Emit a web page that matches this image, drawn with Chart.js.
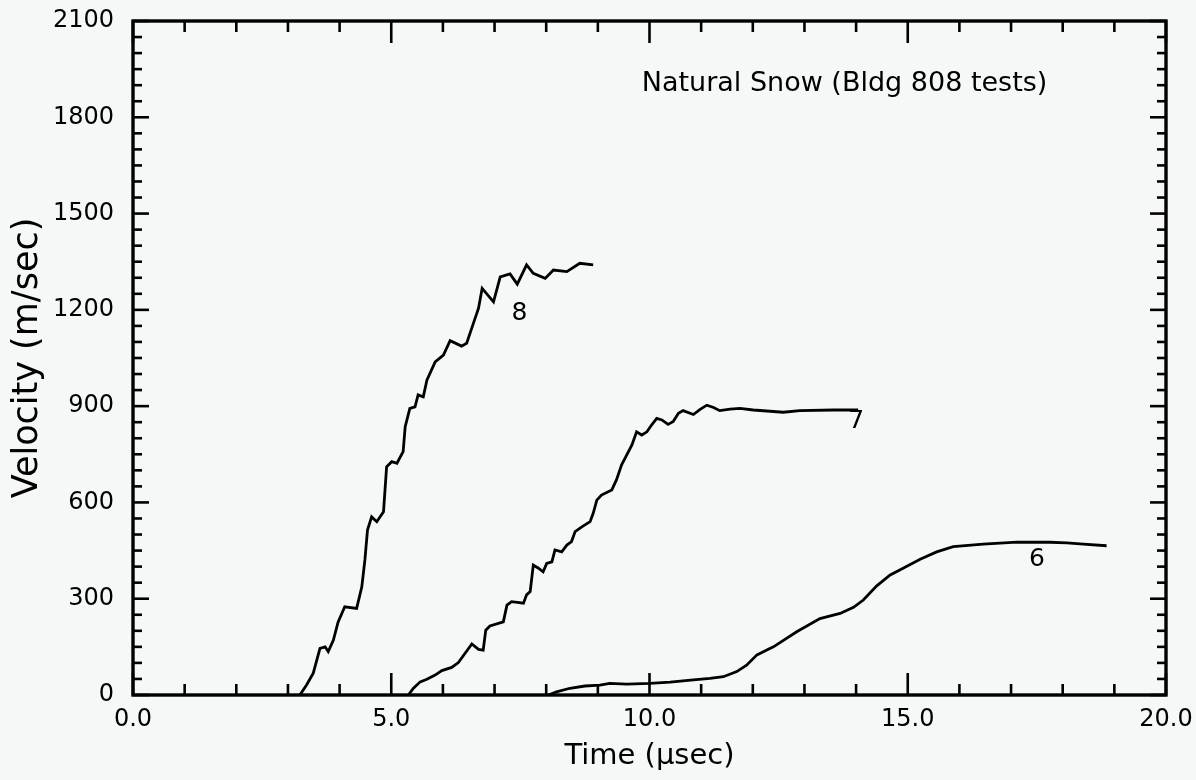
<!DOCTYPE html>
<html>
<head>
<meta charset="utf-8">
<script src="https://cdn.jsdelivr.net/npm/chart.js@4"></script>
<style>
  html, body { margin: 0; padding: 0; background: #f6f8f8; }
  #wrap { width: 1196px; height: 780px; }
</style>
</head>
<body>
<div id="wrap"><canvas id="velChart" width="1196" height="780"></canvas></div>
<script>
// shot 8
const t8 = [3.23, 3.36, 3.49, 3.62, 3.72, 3.78, 3.88, 3.97, 4.10, 4.33, 4.43, 4.49, 4.54, 4.62, 4.72, 4.85,
  4.91, 5.01, 5.11, 5.23, 5.27, 5.36, 5.46, 5.52, 5.62, 5.69, 5.85, 6.01, 6.14, 6.36, 6.46, 6.59, 6.69,
  6.76, 6.98, 7.11, 7.30, 7.44, 7.62, 7.75, 7.98, 8.14, 8.40, 8.65, 8.91];
const v8 = [0, 31, 68, 145, 150, 135, 171, 227, 275, 270, 337, 421, 514, 555, 540, 571,
  711, 727, 722, 758, 836, 893, 898, 935, 929, 981, 1038, 1059, 1104, 1087, 1096, 1158, 1205,
  1267, 1225, 1303, 1312, 1280, 1340, 1314, 1298, 1324, 1319, 1345, 1340];

// shot 7
const t7 = [5.33, 5.43, 5.56, 5.69, 5.85, 5.98, 6.17, 6.30, 6.43, 6.56, 6.69, 6.78, 6.83, 6.91, 7.17, 7.24,
  7.33, 7.56, 7.62, 7.69, 7.75, 7.85, 7.94, 8.01, 8.11, 8.17, 8.30, 8.40, 8.49, 8.56, 8.69, 8.85, 8.91,
  8.98, 9.07, 9.27, 9.36, 9.46, 9.56, 9.66, 9.75, 9.85, 9.95, 10.04, 10.14, 10.24, 10.36, 10.46, 10.56,
  10.65, 10.85, 10.98, 11.11, 11.24, 11.36, 11.56, 11.75, 12.01, 12.59, 12.91, 13.56, 14.04];
const v7 = [0, 21, 41, 49, 62, 76, 86, 101, 130, 159, 142, 140, 202, 215, 228, 280,
  291, 286, 312, 322, 405, 395, 384, 410, 415, 452, 446, 467, 478, 509, 524, 540, 566,
  607, 623, 639, 670, 717, 748, 779, 820, 810, 820, 841, 862, 857, 843, 852, 878,
  886, 874, 890, 903, 896, 886, 891, 893, 888, 881, 886, 888, 888];

// shot 6
const t6 = [8.04, 8.20, 8.46, 8.75, 9.04, 9.23, 9.56, 10.01, 10.40, 10.85, 11.17, 11.43, 11.69, 11.88,
  12.08, 12.33, 12.40, 12.85, 13.30, 13.69, 13.95, 14.14, 14.40, 14.66, 14.91, 15.24, 15.56, 15.88,
  16.46, 17.11, 17.75, 18.08, 18.40, 18.85];
const v6 = [0, 10, 21, 28, 31, 36, 34, 36, 40, 47, 52, 57, 73, 93,
  125, 145, 150, 197, 238, 254, 273, 296, 340, 374, 395, 423, 446, 462,
  470, 476, 476, 474, 470, 465];

// curve tags placed next to each trace
const tagText = ['8', '7', '6'];
const tagT = [7.48, 14.0, 17.5];
const tagV = [1190, 852, 421];

const xTicks = [0, 5, 10, 15, 20];
const yTicks = [0, 300, 600, 900, 1200, 1500, 1800, 2100];

const note = 'Natural Snow (Bldg 808 tests)';

const pts = (ts, vs) => ts.map((t, i) => ({ x: t, y: vs[i] }));
const trace = (ts, vs) => ({
  data: pts(ts, vs),
  borderColor: '#000',
  borderWidth: 2.8,
  pointRadius: 0,
  fill: false,
  tension: 0
});

const FONT = 'DejaVu Sans';

// frame with inward ticks on all four sides, plus tags and the note
const framePlugin = {
  id: 'framePlugin',
  afterDraw(chart) {
    const { ctx, chartArea: a, scales: { x, y } } = chart;
    ctx.save();
    ctx.strokeStyle = '#000';
    ctx.lineCap = 'butt';
    ctx.lineWidth = 2.6;
    const seg = (x1, y1, x2, y2) => { ctx.beginPath(); ctx.moveTo(x1, y1); ctx.lineTo(x2, y2); ctx.stroke(); };
    for (let t = 0; t <= 20; t += 1) {
      const px = x.getPixelForValue(t);
      const len = t % 5 === 0 ? 22 : 11;
      seg(px, a.bottom, px, a.bottom - len);
      seg(px, a.top, px, a.top + len);
    }
    for (let v = 0; v <= 2100; v += 50) {
      const py = y.getPixelForValue(v);
      const len = v % 300 === 0 ? 16 : 9;
      seg(a.left, py, a.left + len, py);
      seg(a.right, py, a.right - len, py);
    }
    ctx.lineWidth = 3.4;
    ctx.strokeRect(a.left, a.top, a.right - a.left, a.bottom - a.top);

    ctx.fillStyle = '#000';
    ctx.textAlign = 'center';
    ctx.textBaseline = 'middle';
    ctx.font = '25px "' + FONT + '"';
    tagText.forEach((s, i) => {
      ctx.fillText(s, x.getPixelForValue(tagT[i]), y.getPixelForValue(tagV[i]));
    });

    ctx.font = '27px "' + FONT + '"';
    ctx.textAlign = 'left';
    ctx.fillText(note, x.getPixelForValue(9.85), y.getPixelForValue(1905));
    ctx.restore();
  }
};

new Chart(document.getElementById('velChart'), {
  type: 'line',
  data: { datasets: [trace(t8, v8), trace(t7, v7), trace(t6, v6)] },
  options: {
    responsive: false,
    animation: false,
    layout: { padding: { top: 21, right: 30, left: 0, bottom: 0 } },
    plugins: { legend: { display: false }, tooltip: { enabled: false } },
    scales: {
      x: {
        type: 'linear',
        min: 0,
        max: 20,
        afterBuildTicks: s => { s.ticks = xTicks.map(v => ({ value: v })); },
        afterFit: s => { s.height = 85; s.paddingLeft = 0; s.paddingRight = 0; },
        grid: { display: false, drawTicks: false },
        border: { display: false },
        ticks: {
          callback: v => v.toFixed(1),
          color: '#000',
          padding: 10,
          maxRotation: 0,
          font: { family: FONT, size: 24 }
        },
        title: {
          display: true,
          text: 'Time (μsec)',
          color: '#000',
          font: { family: FONT, size: 29 },
          padding: { top: 0, bottom: 6 }
        }
      },
      y: {
        type: 'linear',
        min: 0,
        max: 2100,
        afterBuildTicks: s => { s.ticks = yTicks.map(v => ({ value: v })); },
        afterFit: s => { s.width = 133; s.paddingTop = 0; s.paddingBottom = 0; },
        grid: { display: false, drawTicks: false },
        border: { display: false },
        ticks: {
          callback: v => String(v),
          color: '#000',
          padding: 19,
          font: { family: FONT, size: 24 }
        },
        title: {
          display: true,
          text: 'Velocity (m/sec)',
          color: '#000',
          font: { family: FONT, size: 35 },
          padding: { top: 7, bottom: 0 }
        }
      }
    }
  },
  plugins: [framePlugin]
});
</script>
</body>
</html>
